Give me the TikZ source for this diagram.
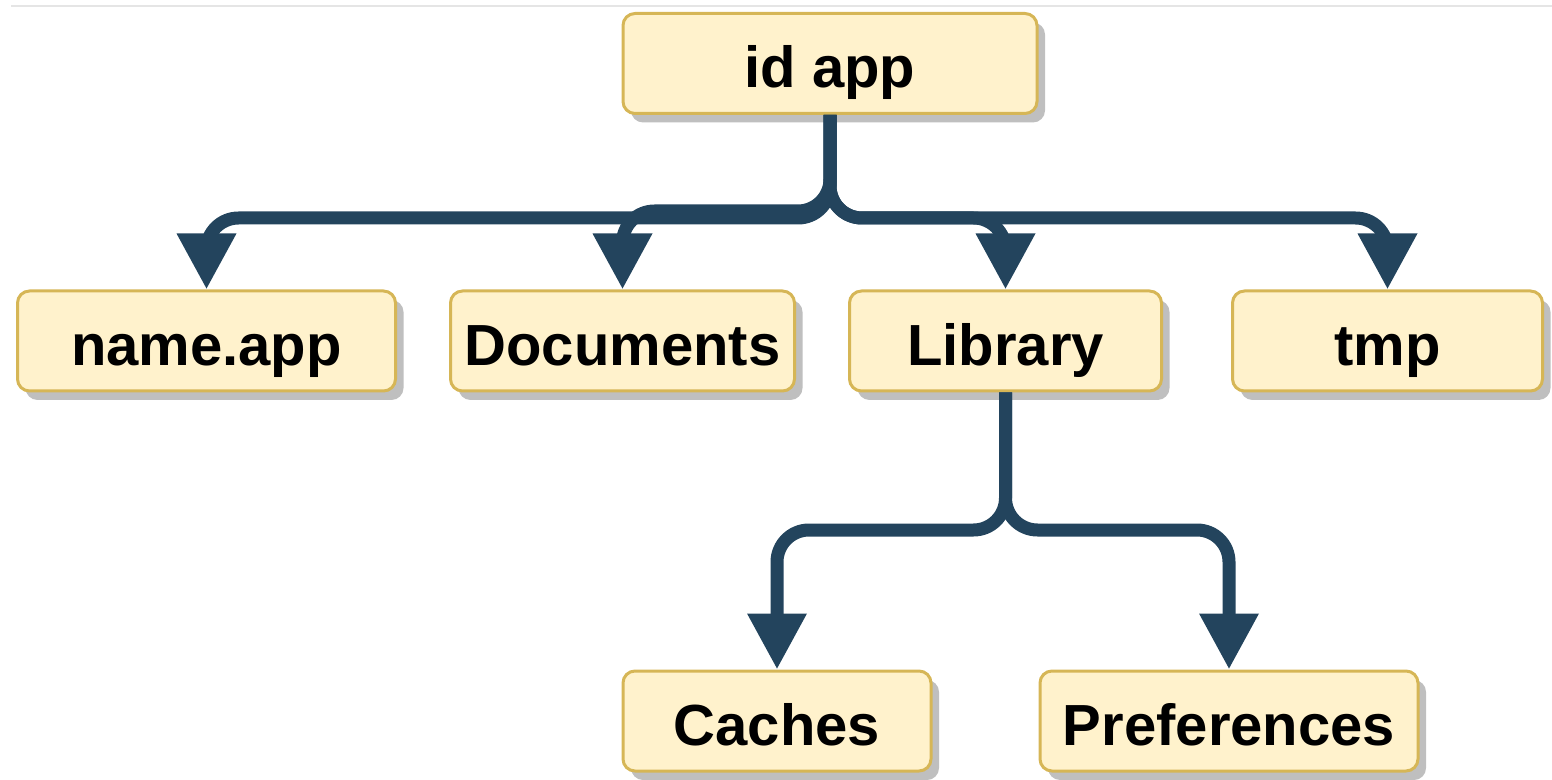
\documentclass[tikz,border=0pt]{standalone}
\usepackage{fontspec}
\setmainfont{Liberation Sans}
\usepackage{tikz}
\usetikzlibrary{positioning, shadows, arrows.meta}

\definecolor{boxfill}{HTML}{FFF2CC}
\definecolor{boxline}{HTML}{D6B656}
\definecolor{linkblue}{HTML}{23445D}

\begin{document}
\begin{tikzpicture}[x=0.5pt, y=-0.5pt,
    dir/.style={draw=boxline, fill=boxfill, line width=1.5pt, rounded corners=6pt,
        minimum height=50pt, font=\bfseries\fontsize{29}{34}\selectfont,
        text height=24.4pt, text depth=0pt,
        drop shadow={shadow xshift=4pt, shadow yshift=-4.5pt, fill=black!25, opacity=1}},
    link/.style={draw=linkblue, line width=6.5pt, -{Triangle[length=28pt, width=28pt]}}]
    \useasboundingbox (0,0) rectangle (1552,780);
    \draw[black!10, line width=1pt] (11,6) -- (1552,6);%页面上边线

    \node[dir, minimum width=207pt] (idapp) at (830,63.5) {id app};
    \node[dir, minimum width=189pt] (nameapp) at (206.5,341) {name.app};
    \node[dir, minimum width=172pt, right=26pt of nameapp] (docs) {Documents};
    \node[dir, minimum width=156pt, right=26pt of docs] (lib) {Library};
    \node[dir, minimum width=155pt, right=34pt of lib] (tmp) {tmp};
    \node[dir, minimum width=154pt] (caches) at (777,721) {Caches};
    \node[dir, minimum width=189pt, right=53pt of caches] (prefs) {Preferences};

    \coordinate (fork) at (830,218);
    \coordinate (forkdoc) at (830,211);
    \coordinate (libfork) at (lib.south |- 0,530);

    \draw[link, rounded corners=16pt] (idapp.south) -- (fork) -- (fork -| nameapp) [rounded corners=6pt] -- (nameapp.north);
    \draw[link, rounded corners=16pt] (idapp.south) -- (forkdoc) -- (forkdoc -| docs) [rounded corners=6pt] -- (docs.north);
    \draw[link, rounded corners=16pt] (idapp.south) -- (fork) -- (fork -| lib) [rounded corners=6pt] -- (lib.north);
    \draw[link, rounded corners=16pt] (idapp.south) -- (fork) -- (fork -| tmp) [rounded corners=6pt] -- (tmp.north);
    \draw[link, rounded corners=16pt] (lib.south) -- (libfork) -- (libfork -| caches) -- (caches.north);
    \draw[link, rounded corners=16pt] (lib.south) -- (libfork) -- (libfork -| prefs) -- (prefs.north);
\end{tikzpicture}
\end{document}
